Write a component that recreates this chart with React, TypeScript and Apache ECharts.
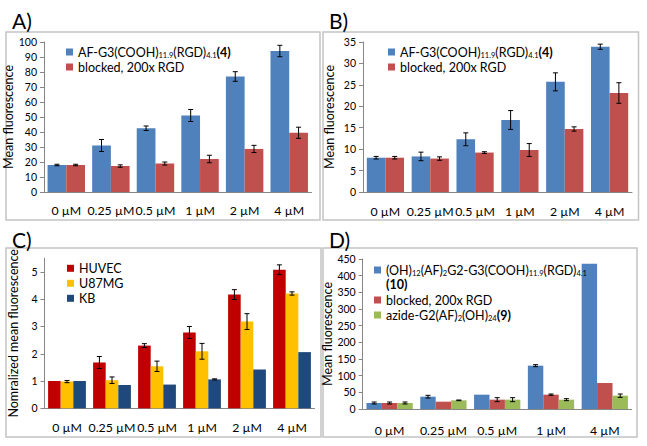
import React, { useEffect, useRef } from "react";
import * as echarts from "echarts";

// ---------- data ----------
const concSix = ["0 µM", "0.25 µM", "0.5 µM", "1 µM", "2 µM", "4 µM"];
const concFive = ["0 µM", "0.25 µM", "0.5 µM", "1 µM", "4 µM"];

const aTargeted = [18, 31, 42.5, 51, 77, 94];
const aTargetedErr = [0.5, 4, 1.5, 4, 3.2, 3.8];
const aBlocked = [18, 17.3, 19, 22, 28.7, 39.5];
const aBlockedErr = [0.5, 0.8, 1, 2.5, 2.4, 3.7];

const bTargeted = [8.0, 8.3, 12.3, 16.8, 25.7, 33.9];
const bTargetedErr = [0.3, 1.0, 1.5, 2.2, 2.1, 0.6];
const bBlocked = [8.0, 7.8, 9.2, 9.8, 14.7, 23.1];
const bBlockedErr = [0.3, 0.4, 0.2, 1.5, 0.5, 2.4];

const cHuvec = [1.0, 1.68, 2.3, 2.78, 4.17, 5.08];
const cHuvecErr = [0, 0.22, 0.07, 0.22, 0.18, 0.18];
const cU87 = [0.98, 1.03, 1.54, 2.09, 3.18, 4.21];
const cU87Err = [0.04, 0.12, 0.19, 0.29, 0.29, 0.06];
const cKb = [1.0, 0.85, 0.87, 1.06, 1.42, 2.06];
const cKbErr = [0, 0, 0, 0.02, 0, 0];

const dTargeted = [18, 37, 43, 130, 436];
const dTargetedErr = [3, 4, 0, 3, 0];
const dBlocked = [18, 22, 28, 43, 78];
const dBlockedErr = [3, 0, 6, 2, 0];
const dAzide = [18, 26, 28, 28, 40];
const dAzideErr = [3, 1, 6, 3, 5];

const legendLabels: Record<string, string> = {
  A1: "AF-G3(COOH){s|11.9}(RGD){s|4.1}{b|(4)}",
  A2: "blocked, 200x RGD",
  B1: "AF-G3(COOH){s|11.9}(RGD){s|4.1}{b|(4)}",
  B2: "blocked, 200x RGD",
  C1: "HUVEC",
  C2: "U87MG",
  C3: "KB",
  D1: "(OH){s|12}(AF){s|2}G2-G3(COOH){s|11.9}(RGD){s|4.1}",
  D2: "blocked, 200x RGD",
  D3: "azide-G2(AF){s|2}(OH){s|24}{b|(9)}",
};

const BLUE = "#4f81bd";
const RED = "#c0504d";
const GREEN = "#9bbb59";
const HUVEC_C = "#c00000";
const U87_C = "#ffc000";
const KB_C = "#1f497d";

const FONT = "Lato";
const AXIS_C = "#868686";

function bar(name: string, grid: number, values: number[], color: string, gap: string) {
  return {
    type: "bar",
    name,
    xAxisIndex: grid,
    yAxisIndex: grid,
    data: values,
    barGap: "0%",
    barCategoryGap: gap,
    itemStyle: { color },
  };
}

function errBars(grid: number, values: number[], errs: number[], idx: number, n: number, gapRatio: number) {
  return {
    type: "custom",
    xAxisIndex: grid,
    yAxisIndex: grid,
    silent: true,
    z: 10,
    data: values.map((v, i) => [i, v, errs[i]]),
    renderItem: (params: any, api: any) => {
      const i = api.value(0);
      const v = api.value(1);
      const e = api.value(2);
      if (!e) return { type: "group", children: [] };
      const cat = api.size([1, 0])[0];
      const bw = (cat * (1 - gapRatio)) / n;
      const c = api.coord([i, v]);
      const x = c[0] + (idx - (n - 1) / 2) * bw;
      const top = api.coord([i, v + e])[1];
      const bot = api.coord([i, v - e])[1];
      const h = 2.5;
      const st = { stroke: "#000", lineWidth: 1 };
      return {
        type: "group",
        children: [
          { type: "line", shape: { x1: x, y1: top, x2: x, y2: bot }, style: st },
          { type: "line", shape: { x1: x - h, y1: top, x2: x + h, y2: top }, style: st },
          { type: "line", shape: { x1: x - h, y1: bot, x2: x + h, y2: bot }, style: st },
        ],
      };
    },
  };
}

function xAx(grid: number, data: string[], margin: number) {
  return {
    type: "category",
    gridIndex: grid,
    data,
    axisLine: { lineStyle: { color: AXIS_C } },
    axisTick: { length: 4, lineStyle: { color: AXIS_C } },
    axisLabel: { margin, fontSize: 12.3, color: "#000", fontFamily: FONT, interval: 0 },
  };
}

function yAx(grid: number, max: number, interval: number, name: string, nameGap: number, extra: any = {}) {
  return {
    type: "value",
    gridIndex: grid,
    min: 0,
    max,
    interval,
    name,
    nameLocation: "middle",
    nameGap,
    nameTextStyle: { fontSize: 12.5, fontFamily: FONT, color: "#000" },
    axisLine: { show: true, lineStyle: { color: AXIS_C } },
    axisTick: { show: true, length: 4, lineStyle: { color: AXIS_C } },
    splitLine: { show: false },
    axisLabel: { fontSize: 10.5, margin: 7, color: "#000", fontFamily: FONT, ...extra },
  };
}

const legendText = {
  fontFamily: FONT,
  fontSize: 12.5,
  color: "#000",
  lineHeight: 15,
  rich: {
    s: { fontSize: 7.5, fontFamily: FONT, color: "#000", lineHeight: 15, verticalAlign: "bottom" },
    b: { fontSize: 12.5, fontFamily: FONT, color: "#000", fontWeight: "bold", lineHeight: 15 },
  },
};

function legend(data: string[], left: number, top: number) {
  return {
    orient: "vertical",
    left,
    top,
    padding: 0,
    itemGap: 0,
    itemWidth: 7,
    itemHeight: 7,
    icon: "rect",
    selectedMode: false,
    data,
    formatter: (name: string) => legendLabels[name] || name,
    textStyle: legendText,
  };
}

function frame(x: number, y: number, w: number, h: number) {
  return {
    type: "rect",
    shape: { x, y, width: w, height: h },
    style: { fill: "none", stroke: "#c4c4c4", lineWidth: 1.5 },
    silent: true,
  };
}

function title(text: string, x: number, y: number) {
  return {
    type: "text",
    x,
    y,
    style: { text, fontSize: 21, fontFamily: FONT, fill: "#000", verticalAlign: "middle", align: "left" },
  };
}

export default function App() {
  const ref = useRef<HTMLDivElement>(null);
  useEffect(() => {
    if (!ref.current) return;
    const chart = echarts.init(ref.current, null, { renderer: "svg" });
    const option: any = {
      animation: false,
      backgroundColor: "#ffffff",
      grid: [
        { left: 44, top: 42, width: 267.5, height: 150 },
        { left: 363, top: 42, width: 269, height: 150 },
        { left: 44.5, top: 258.3, width: 270, height: 150 },
        { left: 362.7, top: 259, width: 269, height: 150 },
      ],
      xAxis: [xAx(0, concSix, 12.5), xAx(1, concSix, 13.5), xAx(2, concSix, 13), xAx(3, concFive, 15.5)],
      yAxis: [
        yAx(0, 100, 10, "Mean fluorescence", 23),
        yAx(1, 35, 5, "Mean fluorescence", 27),
        yAx(2, 5.5, 1, "Nomralized mean fluorescence", 25, { showMaxLabel: false }),
        yAx(3, 450, 50, "Mean fluorescence", 27),
      ],
      legend: [
        legend(["A1", "A2"], 66, 44.5),
        legend(["B1", "B2"], 388, 44.5),
        legend(["C1", "C2", "C3"], 67, 260.8),
        legend(["D1"], 374, 262.5),
        legend(["D2", "D3"], 374, 292.5),
      ],
      series: [
        bar("A1", 0, aTargeted, BLUE, "16%"),
        bar("A2", 0, aBlocked, RED, "16%"),
        errBars(0, aTargeted, aTargetedErr, 0, 2, 0.16),
        errBars(0, aBlocked, aBlockedErr, 1, 2, 0.16),

        bar("B1", 1, bTargeted, BLUE, "17%"),
        bar("B2", 1, bBlocked, RED, "17%"),
        errBars(1, bTargeted, bTargetedErr, 0, 2, 0.17),
        errBars(1, bBlocked, bBlockedErr, 1, 2, 0.17),

        bar("C1", 2, cHuvec, HUVEC_C, "16%"),
        bar("C2", 2, cU87, U87_C, "16%"),
        bar("C3", 2, cKb, KB_C, "16%"),
        errBars(2, cHuvec, cHuvecErr, 0, 3, 0.16),
        errBars(2, cU87, cU87Err, 1, 3, 0.16),
        errBars(2, cKb, cKbErr, 2, 3, 0.16),

        bar("D1", 3, dTargeted, BLUE, "14%"),
        bar("D2", 3, dBlocked, RED, "14%"),
        bar("D3", 3, dAzide, GREEN, "14%"),
        errBars(3, dTargeted, dTargetedErr, 0, 3, 0.14),
        errBars(3, dBlocked, dBlockedErr, 1, 3, 0.14),
        errBars(3, dAzide, dAzideErr, 2, 3, 0.14),
      ],
      graphic: [
        frame(6, 32, 314, 188),
        frame(323, 32, 315.5, 188),
        frame(6, 248, 315, 189),
        frame(323, 248, 314, 189),
        title("A)", 12, 20.5),
        title("B)", 329, 20.5),
        title("C)", 12, 239.5),
        title("D)", 329, 239.5),
        {
          type: "text",
          x: 386,
          y: 284.5,
          style: { text: "(10)", fontSize: 12.5, fontFamily: FONT, fontWeight: "bold", fill: "#000", verticalAlign: "middle" },
        },
      ],
    };
    chart.setOption(option);
    return () => chart.dispose();
  }, []);
  return (
    <div
      ref={ref}
      style={{ position: "absolute", left: 0, top: 0, width: 647, height: 446, background: "#fff" }}
    />
  );
}
